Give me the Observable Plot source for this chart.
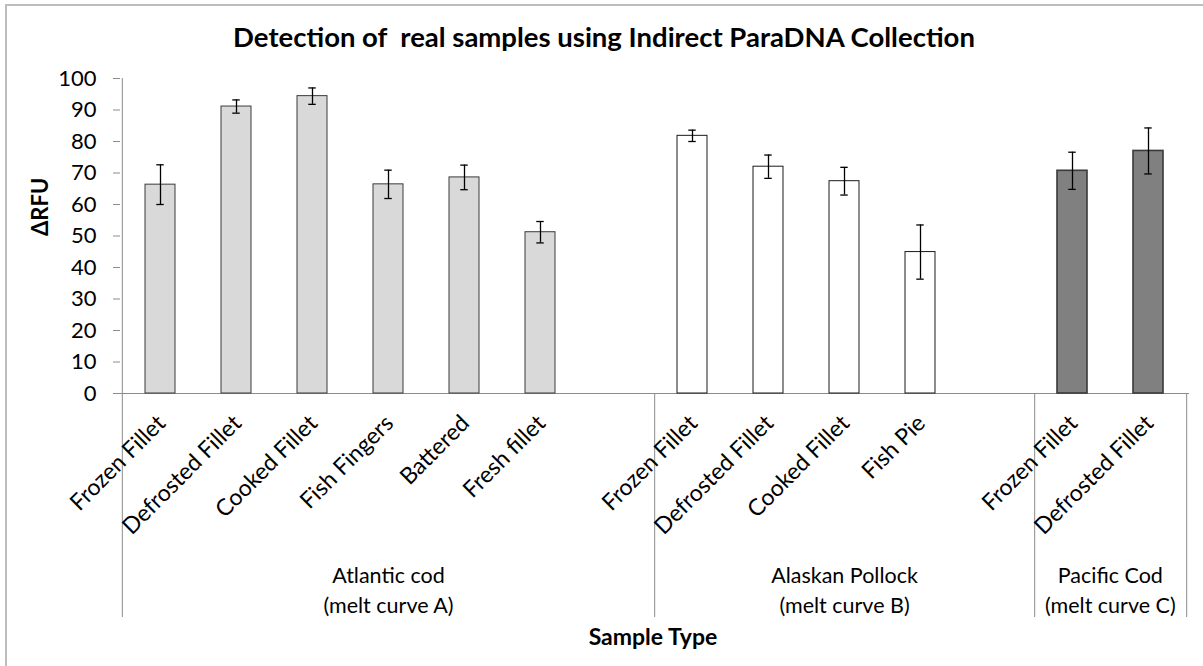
<!DOCTYPE html>
<html>
<head>
<meta charset="utf-8">
<script src="https://cdn.jsdelivr.net/npm/d3@7"></script>
<script src="https://cdn.jsdelivr.net/npm/@observablehq/plot@0.6"></script>
<style>
  html, body { margin: 0; padding: 0; background: #fff; }
  #wrap { position: relative; width: 1203px; height: 666px; overflow: hidden; }
  #border { position: absolute; left: 5px; top: 4px; right: -10px; bottom: -10px;
            border-left: 2px solid #bdbdbd; border-top: 2px solid #bdbdbd; pointer-events: none; }
</style>
</head>
<body>
<div id="wrap"><div id="border"></div></div>
<script>
// ---- data ----
const title = "Detection of  real samples using Indirect ParaDNA Collection";
const yLabel = "ΔRFU";
const xLabel = "Sample Type";
const species = ["Atlantic cod", "Alaskan Pollock", "Pacific Cod"];
const speciesSub = ["(melt curve A)", "(melt curve B)", "(melt curve C)"];
const samples = ["Frozen Fillet", "Defrosted Fillet", "Cooked Fillet", "Fish Fingers", "Battered", "Fresh fillet",
                 "Frozen Fillet", "Defrosted Fillet", "Cooked Fillet", "Fish Pie",
                 "Frozen Fillet", "Defrosted Fillet"];
const sampleGroup = [0, 0, 0, 0, 0, 0, 1, 1, 1, 1, 2, 2];
const rfu = [66.3, 91.1, 94.4, 66.4, 68.6, 51.2, 81.8, 72.0, 67.4, 44.9, 70.7, 77.0];
const err = [6.3, 2.1, 2.6, 4.5, 3.9, 3.4, 1.8, 3.7, 4.4, 8.6, 5.9, 7.3];
const blankAfter = [1, 1, 0];
const yTicks = [0, 10, 20, 30, 40, 50, 60, 70, 80, 90, 100];

// ---- styles / layout ----
const fills = ["#d9d9d9", "#ffffff", "#808080"];
const strokes = ["#3a3a3a", "#1a1a1a", "#3a3a3a"];
const strokeWidths = [1, 1, 1.6];
const W = 1203, H = 666, ML = 120, MR = 14, MT = 78, MB = 273;
const FONT = "Lato, 'Open Sans', sans-serif";

// ---- build table & domain ----
const rows = samples.map((s, i) => ({key: `k${i}`, label: s, g: sampleGroup[i], v: rfu[i], e: err[i]}));
const domain = [];
const groupStart = [], groupCount = [];
species.forEach((sp, g) => {
  groupStart.push(domain.length);
  rows.filter(r => r.g === g).forEach(r => domain.push(r.key));
  for (let b = 0; b < blankAfter[g]; b++) domain.push(`blank${g}_${b}`);
  groupCount.push(domain.length - groupStart[g]);
});
const labelOf = new Map(rows.map(r => [r.key, r.label]));
const step = (W - ML - MR) / domain.length;
const bw = step * 0.4;
const capInset = (bw - 8) / 2;
const frameH = H - MT - MB;
const lowerDepth = 224;
const axisGray = "#8c8c8c";

const groupLabelMarks = species.map((sp, g) => {
  const mid = groupStart[g] + groupCount[g] / 2;
  const idx = Math.floor(mid);
  const dx = (mid - idx - 0.5) * step;
  return Plot.text([sp + "\n" + speciesSub[g]], {
    x: () => domain[idx], text: d => d, frameAnchor: "bottom", lineAnchor: "middle",
    dx, dy: 195, lineHeight: 1.4, fontSize: 21.5, fill: "#000"
  });
});

const lastKeys = species.map((sp, g) => domain[groupStart[g] + groupCount[g] - 1]);

const chart = Plot.plot({
  width: W, height: H,
  marginLeft: ML, marginRight: MR, marginTop: MT, marginBottom: MB,
  style: {fontFamily: FONT, fontSize: "20px", color: "#000", background: "transparent", overflow: "visible"},
  x: {type: "band", domain, paddingInner: 0.6, paddingOuter: 0.3, align: 0.5},
  y: {domain: [0, 100]},
  marks: [
    // axis lines
    Plot.ruleY([0], {stroke: axisGray, insetLeft: -7}),
    Plot.ruleX([domain[0]], {dx: -step / 2, stroke: axisGray, insetBottom: -lowerDepth}),
    Plot.ruleX(lastKeys, {dx: step / 2, stroke: axisGray, insetTop: frameH, insetBottom: -lowerDepth}),
    // bars
    Plot.barY(rows, {x: "key", y: "v",
      fill: d => fills[d.g], stroke: d => strokes[d.g], strokeWidth: d => strokeWidths[d.g]}),
    // error bars
    Plot.ruleX(rows, {x: "key", y1: d => d.v - d.e, y2: d => d.v + d.e, stroke: "#000", strokeWidth: 1.3}),
    Plot.tickY(rows, {x: "key", y: d => d.v + d.e, stroke: "#000", strokeWidth: 1.3, insetLeft: capInset, insetRight: capInset}),
    Plot.tickY(rows, {x: "key", y: d => d.v - d.e, stroke: "#000", strokeWidth: 1.3, insetLeft: capInset, insetRight: capInset}),
    // axes
    Plot.axisY({ticks: yTicks, tickSize: 7, tickPadding: 17, stroke: axisGray, fill: "#000", label: null, fontSize: 22}),
    Plot.axisX({tickSize: 0, tickPadding: 26, tickRotate: -45, label: null, fontSize: 23, fill: "#000",
      tickFormat: k => labelOf.get(k) || "", dx: 1}),
    // group labels
    ...groupLabelMarks,
    // titles
    Plot.text([yLabel], {text: d => d, frameAnchor: "left", dx: -80, rotate: -90, fontWeight: "bold", fontSize: 22, fill: "#000"}),
    Plot.text([xLabel], {text: d => d, frameAnchor: "bottom", lineAnchor: "middle", dy: 244, dx: -2, fontWeight: "bold", fontSize: 23, fill: "#000"}),
    Plot.text([title], {text: d => d, frameAnchor: "top", lineAnchor: "middle", dx: 603.5 - (ML + (W - ML - MR) / 2), dy: -40,
      fontWeight: "bold", fontSize: 27.5, fill: "#000"})
  ]
});
document.getElementById("wrap").prepend(chart);
</script>
</body>
</html>
